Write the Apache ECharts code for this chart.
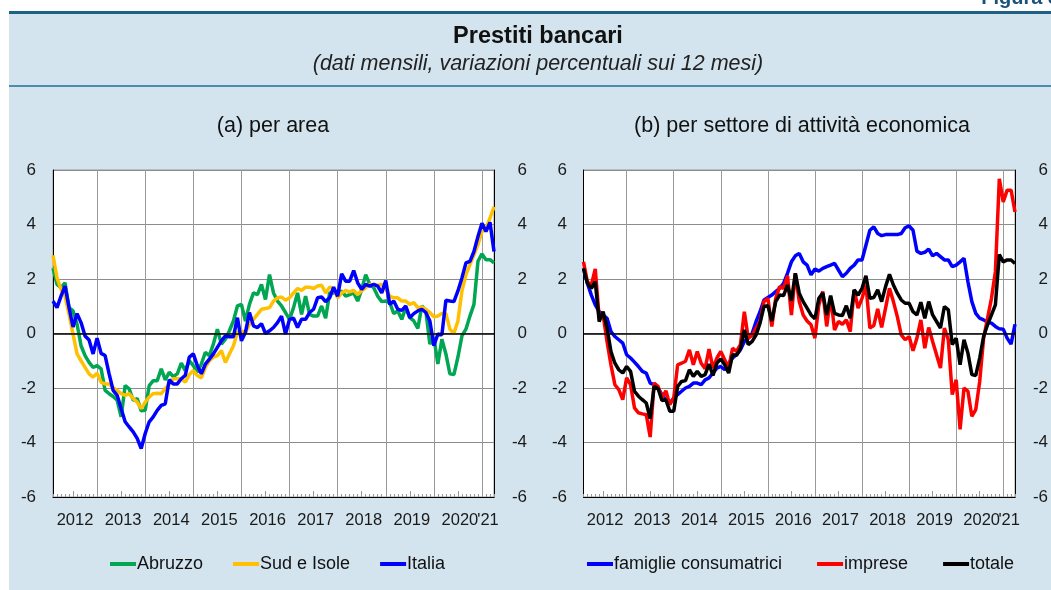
<!DOCTYPE html>
<html>
<head>
<meta charset="utf-8">
<script src="https://cdn.jsdelivr.net/npm/echarts@6/dist/echarts.min.js"></script>
<style>
body { margin: 0; background-color: #fff; }
#main { width: 1051px; height: 590px; }
</style>
</head>
<body>
<div id="main"></div>
<script>
var FONT = '"Liberation Sans", Arial, Helvetica, sans-serif';

// monthly categories, Jan 2012 - Mar 2021
var months = [];
for (var y = 2012; y <= 2021; y++) {
    for (var m = 1; m <= 12; m++) {
        if (y === 2021 && m > 3) break;
        months.push(y + '-' + (m < 10 ? '0' + m : m));
    }
}

var yTicks = [-6, -4, -2, 0, 2, 4, 6];

// (a) per area
var abruzzo = [2.4,1.8,1.68,1.86,0.95,0.83,0.34,-0.45,-0.81,-1.06,-1.24,-1.18,
    -1.3,-2.09,-2.21,-2.31,-2.45,-3.06,-1.91,-2.03,-2.45,-2.39,-2.84,-2.82,
    -1.91,-1.73,-1.73,-1.3,-1.7,-1.42,-1.58,-1.48,-1.09,-1.36,-1.0,-1.18,
    -1.42,-1.12,-0.69,-0.81,-0.39,0.16,-0.39,-0.21,0.1,0.46,1.01,1.07,
    0.46,1.07,1.49,1.43,1.8,1.25,2.16,1.49,1.19,1.01,0.77,0.52,
    0.95,1.49,0.7,1.37,0.7,0.64,0.64,1.01,0.56,1.49,1.49,1.49,
    1.56,1.37,1.43,1.49,1.19,1.62,2.16,1.8,1.68,1.37,1.17,1.19,
    1.13,0.73,0.83,0.52,0.95,0.58,0.46,0.19,1.01,0.83,-0.39,-0.15,
    -1.12,-0.21,-0.75,-1.48,-1.51,-0.87,-0.09,0.16,0.64,1.07,2.65,2.92,
    2.71,2.71,2.59];
var sudIsole = [2.87,2.04,1.62,1.37,0.7,-0.02,-0.75,-1.0,-1.24,-1.48,-1.6,-1.46,
    -1.79,-1.85,-1.85,-1.99,-2.09,-2.21,-2.27,-2.21,-2.39,-2.52,-2.76,-2.52,
    -2.33,-2.21,-2.19,-2.21,-2.03,-1.85,-1.66,-1.66,-1.66,-1.79,-1.51,-1.36,
    -1.54,-1.63,-1.24,-1.0,-0.87,-0.81,-0.63,-1.06,-0.75,-0.45,0.04,0.1,
    0.04,0.34,0.52,0.7,0.89,0.92,0.95,1.19,1.31,1.34,1.22,1.31,
    1.49,1.65,1.58,1.7,1.7,1.65,1.74,1.77,1.49,1.7,1.65,1.31,
    1.49,1.58,1.53,1.58,1.43,1.58,1.68,1.8,1.77,1.77,1.8,1.62,
    1.37,1.31,1.31,1.19,1.19,1.07,1.13,0.95,0.97,0.89,0.77,0.61,
    0.64,0.73,0.73,0.16,0.0,0.46,1.56,2.16,2.53,2.89,3.26,3.74,
    3.86,4.23,4.65];
var italia = [1.19,0.95,1.37,1.74,0.95,0.24,0.73,0.4,-0.09,-0.24,-0.75,-0.17,
    -0.73,-0.81,-1.48,-2.09,-2.27,-2.76,-3.24,-3.43,-3.61,-3.85,-4.22,-3.67,
    -3.24,-3.06,-2.82,-2.64,-2.58,-1.7,-1.85,-1.85,-1.66,-1.54,-0.87,-0.75,
    -1.18,-1.48,-1.12,-0.94,-0.75,-0.51,-0.27,-0.09,-0.12,-0.12,0.58,-0.27,
    0.04,0.77,0.28,0.22,0.36,0.0,0.1,0.22,0.4,0.64,-0.02,0.52,
    0.56,0.22,0.52,0.52,0.77,0.89,1.31,1.34,1.17,1.31,1.7,1.37,
    2.19,1.92,1.92,2.31,1.86,1.62,1.8,1.74,1.8,1.74,1.49,1.94,
    1.07,1.19,0.89,0.85,1.01,0.58,0.73,0.83,0.89,0.77,0.46,-0.45,
    -0.02,-0.05,1.22,1.19,1.17,1.56,2.04,2.59,2.65,3.01,3.56,4.05,
    3.74,4.08,3.01];

// (b) per settore di attività economica
var famiglie = [2.39,1.84,1.41,1.05,0.8,0.68,0.56,0.07,-0.11,-0.23,-0.35,-0.78,
    -0.9,-1.05,-1.21,-1.39,-1.45,-1.82,-1.88,-2.0,-2.24,-2.43,-2.55,-2.37,
    -2.24,-2.12,-2.0,-1.94,-1.82,-1.82,-1.88,-1.7,-1.63,-1.45,-1.27,-1.21,
    -1.33,-1.09,-0.9,-0.78,-0.6,-0.29,-0.17,0.01,0.44,0.8,1.23,1.32,
    1.41,1.54,1.66,1.84,2.21,2.63,2.85,2.94,2.63,2.51,2.15,2.37,
    2.29,2.39,2.45,2.51,2.57,2.33,2.09,2.21,2.39,2.51,2.7,2.7,
    3.24,3.79,3.91,3.67,3.59,3.63,3.63,3.63,3.63,3.67,3.88,3.95,
    3.79,3.02,2.94,2.98,3.1,2.85,2.94,2.82,2.7,2.7,2.45,2.51,
    2.63,2.76,1.9,1.17,0.74,0.56,0.5,0.41,0.38,0.26,0.17,0.16,
    -0.17,-0.39,0.34];
var imprese = [2.63,1.9,1.78,2.37,0.56,0.68,-0.29,-1.15,-1.88,-2.06,-2.43,-1.63,
    -1.88,-2.73,-2.91,-2.95,-2.98,-3.8,-1.82,-1.94,-2.37,-2.1,-2.61,-2.37,
    -1.15,-1.09,-1.02,-0.6,-1.15,-0.66,-1.09,-1.29,-0.57,-1.27,-0.9,-0.66,
    -0.96,-1.27,-0.54,-0.66,-0.41,0.8,-0.17,-0.07,0.2,0.44,1.17,1.29,
    0.26,1.29,1.72,1.66,2.12,0.68,2.21,1.17,0.68,0.46,0.32,-0.17,
    1.05,1.54,0.26,1.35,0.13,0.44,0.34,0.5,0.07,1.6,0.93,1.29,
    1.78,0.2,0.29,0.9,0.22,0.93,1.66,1.17,0.62,-0.05,-0.23,-0.11,
    -0.63,-0.17,0.5,-0.54,0.22,-0.29,-0.78,-1.27,0.2,-0.23,-2.24,-1.7,
    -3.52,-2.0,-2.12,-3.04,-2.79,-1.76,-0.17,0.56,1.29,2.27,5.68,4.83,
    5.26,5.26,4.46];
var totale = [2.39,1.84,1.66,1.9,0.44,0.8,0.2,-0.66,-1.09,-1.33,-1.45,-1.21,
    -1.39,-2.12,-2.3,-2.43,-2.55,-3.12,-1.94,-2.02,-2.46,-2.43,-2.85,-2.85,
    -1.94,-1.76,-1.73,-1.33,-1.57,-1.39,-1.57,-1.51,-1.12,-1.54,-1.09,-0.93,
    -1.15,-1.45,-0.78,-0.8,-0.56,0.13,-0.41,-0.29,-0.05,0.38,0.99,1.02,
    0.46,1.17,1.41,1.39,1.78,1.2,2.21,1.48,1.17,0.93,0.68,0.54,
    1.29,1.48,0.68,1.39,0.74,0.68,0.66,1.02,0.56,1.6,1.41,1.66,
    2.12,1.29,1.32,1.6,1.17,1.72,2.17,1.78,1.48,1.23,1.11,1.11,
    0.8,0.68,1.15,0.56,1.17,0.68,0.44,0.2,0.99,0.87,-0.41,-0.17,
    -1.15,-0.23,-0.72,-1.51,-1.54,-0.9,-0.11,0.32,0.68,1.05,2.9,2.63,
    2.7,2.7,2.57];

var chart = echarts.init(document.getElementById('main'), null, { renderer: 'canvas' });

var grids = [
    { left: 53, top: 170, width: 441, height: 327 },
    { left: 583.5, top: 170, width: 436.5, height: 327 }
];

function yearLabel(v) {
    var y = v.slice(0, 4), m = v.slice(5);
    return m === '06' ? y : '';
}

var labelStyle = { color: '#1a1a1a', fontFamily: FONT, fontSize: 16.5, margin: 15, padding: [0, 0, 0, 4], hideOverlap: false };

function makeX(g) {
    return [
        {
            type: 'category', gridIndex: g, data: months, boundaryGap: false, position: 'bottom',
            axisLine: { show: true, onZero: false, lineStyle: { color: '#000', width: 1 } },
            axisTick: { show: true, inside: true, interval: 0, length: 3, lineStyle: { color: '#999' } },
            axisLabel: Object.assign({
                interval: function (i) { return i % 12 === 5; },
                formatter: yearLabel
            }, labelStyle),
            splitLine: {
                show: true,
                interval: function (i) { return i % 12 === 11; },
                lineStyle: { color: '#9a9a9a', width: 1 }
            }
        },
        {
            // longer mid-year ticks and the '21 label
            type: 'category', gridIndex: g, data: months, boundaryGap: false, position: 'bottom', offset: 0,
            axisLine: { show: false, onZero: false },
            axisTick: { show: true, inside: true, length: 6,
                interval: function (i) { return i % 12 === 5; },
                lineStyle: { color: '#999' } },
            axisLabel: Object.assign({
                interval: function (i) { return i === 108; },
                formatter: function () { return "'21"; }
            }, labelStyle),
            splitLine: { show: false }
        }
    ];
}

function makeY(g, leftMargin, rightMargin) {
    var common = {
        type: 'value', gridIndex: g, min: -6, max: 6, interval: 2,
        axisLine: { show: true, lineStyle: { color: '#000', width: 1 } },
        axisTick: { show: false }
    };
    return [
        Object.assign({}, common, {
            position: 'left',
            axisLabel: { color: '#1a1a1a', fontFamily: FONT, fontSize: 17, margin: leftMargin },
            splitLine: { show: true, lineStyle: { color: '#8c8c8c', width: 1 } }
        }),
        Object.assign({}, common, {
            position: 'right',
            axisLabel: { color: '#1a1a1a', fontFamily: FONT, fontSize: 17, margin: rightMargin, align: 'right' },
            splitLine: { show: false }
        })
    ];
}

function zeroLine(xi, yi) {
    return {
        type: 'line', xAxisIndex: xi, yAxisIndex: yi, data: [], silent: true,
        markLine: {
            silent: true, symbol: ['none', 'none'], label: { show: false },
            lineStyle: { color: '#000', width: 1.5, type: 'solid' },
            emphasis: { disabled: true },
            data: [{ yAxis: 0 }]
        }
    };
}

function line(name, data, color, xi, yi) {
    return {
        name: name, type: 'line', data: data, xAxisIndex: xi, yAxisIndex: yi,
        color: color, symbol: 'none', showSymbol: false,
        lineStyle: { color: color, width: 3.5 },
        emphasis: { disabled: true }
    };
}

var legendCommon = {
    orient: 'horizontal', top: 555, padding: 0, selectedMode: false,
    icon: 'rect', itemWidth: 26, itemHeight: 4,
    textStyle: { fontFamily: FONT, fontSize: 18, color: '#111', padding: [0, 0, 0, -4] }
};

option = {
    backgroundColor: '#d3e4ee',
    animation: false,
    textStyle: { fontFamily: FONT },
    graphic: [
        { type: 'rect', shape: { x: 0, y: 0, width: 9, height: 590 }, style: { fill: '#fff' } },
        { type: 'rect', shape: { x: 0, y: 0, width: 1051, height: 11 }, style: { fill: '#fff' } },
        { type: 'rect', shape: { x: 9, y: 11, width: 1042, height: 3 }, style: { fill: '#1d6284' } },
        { type: 'rect', shape: { x: 9, y: 85, width: 1042, height: 2 }, style: { fill: '#4b8db0' } },
        { type: 'text', x: 1059, y: -2, style: { text: 'Figura 3', align: 'right', verticalAlign: 'middle',
            font: 'bold 20px ' + FONT, fill: '#1b527a' } },
        { type: 'text', x: 538, y: 37, style: { text: 'Prestiti bancari', align: 'center', verticalAlign: 'middle',
            font: 'bold 23.5px ' + FONT, fill: '#111' } },
        { type: 'text', x: 538, y: 64, style: { text: '(dati mensili, variazioni percentuali sui 12 mesi)', align: 'center',
            verticalAlign: 'middle', font: 'italic 21.5px ' + FONT, fill: '#222' } },
        { type: 'text', x: 273, y: 126, style: { text: '(a) per area', align: 'center', verticalAlign: 'middle',
            font: '21.5px ' + FONT, fill: '#111' } },
        { type: 'text', x: 802, y: 126, style: { text: '(b) per settore di attività economica', align: 'center',
            verticalAlign: 'middle', font: '21.5px ' + FONT, fill: '#111' } }
    ],
    legend: [
        Object.assign({}, legendCommon, { left: 110, itemGap: 30, data: ['Abruzzo', 'Sud e Isole', 'Italia'] }),
        Object.assign({}, legendCommon, { left: 587, itemGap: 35, data: ['famiglie consumatrici', 'imprese', 'totale'] })
    ],
    grid: grids.map(function (g) {
        return Object.assign({ show: true, backgroundColor: '#fff', borderColor: '#999', borderWidth: 1, containLabel: false }, g);
    }),
    xAxis: makeX(0).concat(makeX(1)),
    yAxis: makeY(0, 17, 33).concat(makeY(1, 16.5, 33)),
    series: [
        zeroLine(0, 0),
        line('Abruzzo', abruzzo, '#00a651', 0, 0),
        line('Sud e Isole', sudIsole, '#ffc000', 0, 0),
        line('Italia', italia, '#0000ff', 0, 0),
        zeroLine(2, 2),
        line('famiglie consumatrici', famiglie, '#0000ff', 2, 2),
        line('imprese', imprese, '#ff0000', 2, 2),
        line('totale', totale, '#000000', 2, 2)
    ]
};

chart.setOption(option);
</script>
</body>
</html>
